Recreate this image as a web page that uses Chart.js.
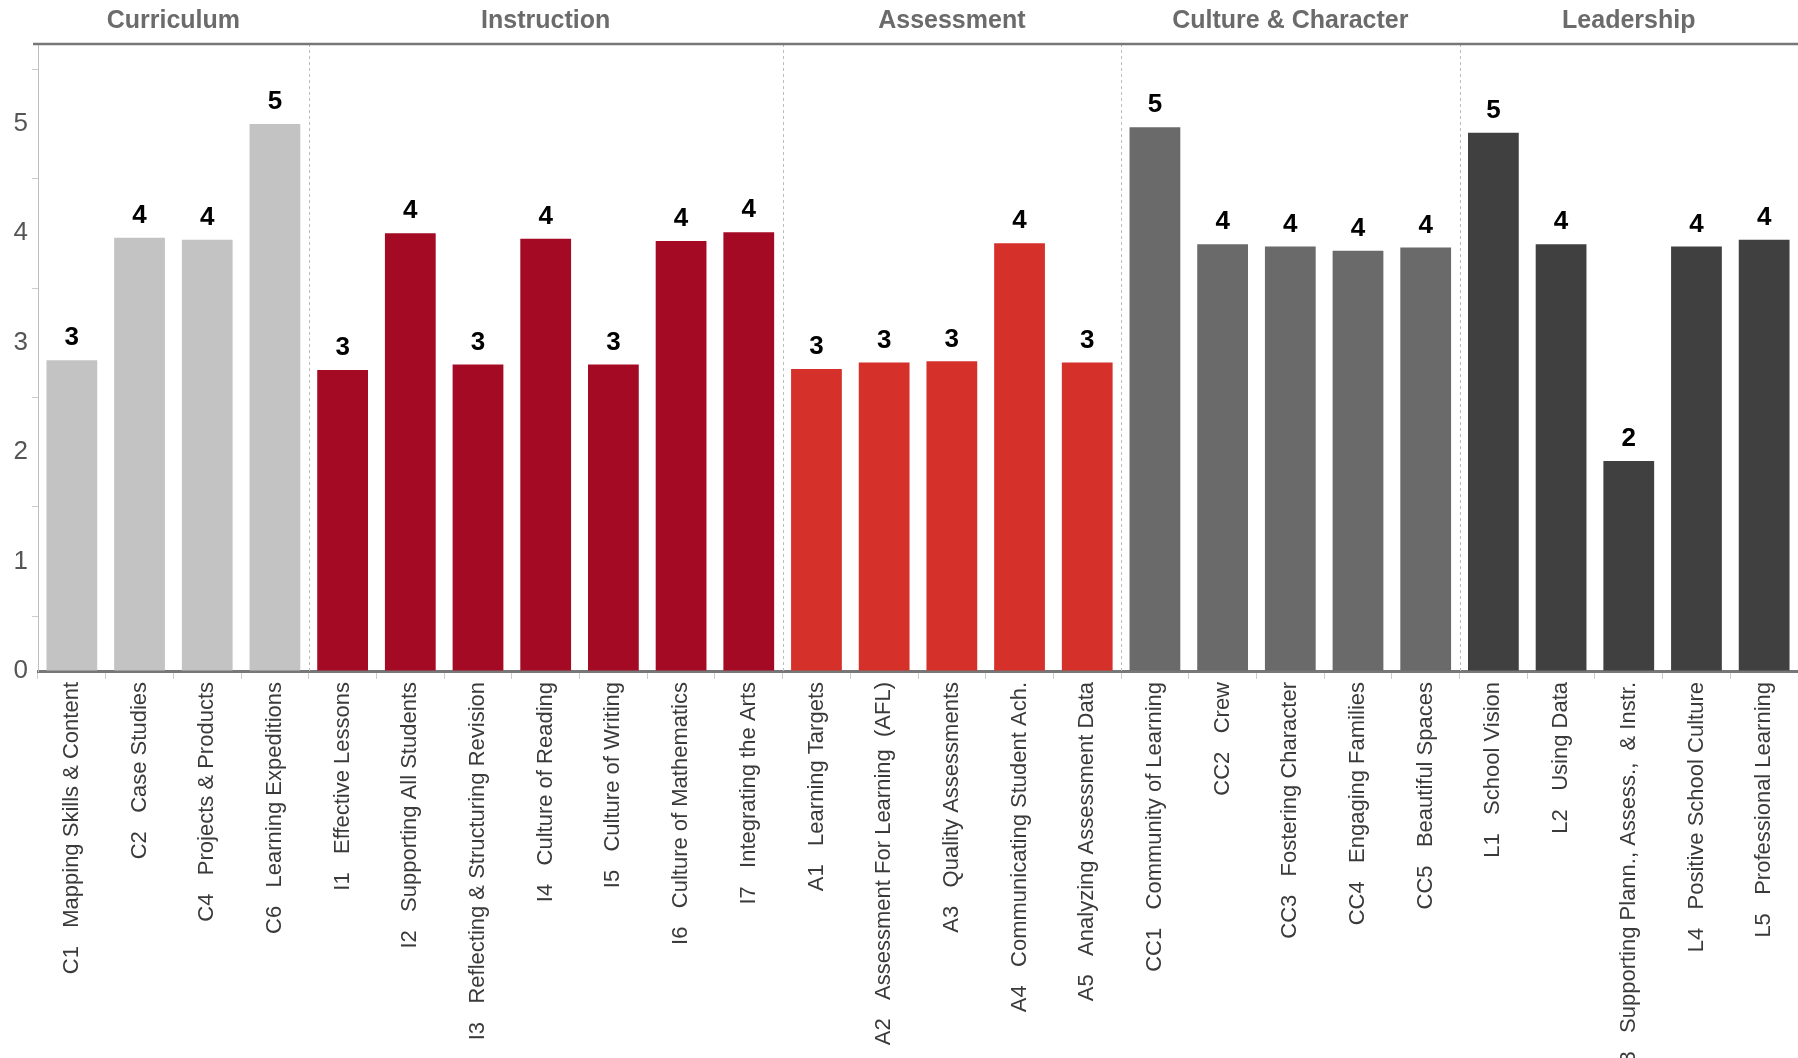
<!DOCTYPE html>
<html>
<head>
<meta charset="utf-8">
<title>School Review Scores</title>
<script src="https://cdn.jsdelivr.net/npm/chart.js@4.4.1/dist/chart.umd.min.js"></script>
<style>
    html, body { margin: 0; padding: 0; background: #ffffff; }
    #wrap { width: 1798px; height: 1058px; overflow: hidden; }
</style>
</head>
<body>
<div id="wrap"><canvas id="mainChart" width="1798" height="1058"></canvas></div>
<script>
// Data
const groups = ['Curriculum', 'Instruction', 'Assessment', 'Culture & Character', 'Leadership'];
const groupSizes = [4, 7, 5, 5, 5];
const groupColors = ['#c3c3c3', '#a50a24', '#d6302a', '#6a6a6a', '#404040'];

const categories = [
    'C1   Mapping Skills & Content',
    'C2   Case Studies',
    'C4   Projects & Products',
    'C6   Learning Expeditions',
    'I1   Effective Lessons',
    'I2   Supporting All Students',
    'I3   Reflecting & Structuring Revision',
    'I4   Culture of Reading',
    'I5   Culture of Writing',
    'I6   Culture of Mathematics',
    'I7   Integrating the Arts',
    'A1   Learning Targets',
    'A2   Assessment For Learning  (AFL)',
    'A3   Quality Assessments',
    'A4   Communicating Student Ach.',
    'A5   Analyzing Assessment Data',
    'CC1   Community of Learning',
    'CC2   Crew',
    'CC3   Fostering Character',
    'CC4   Engaging Families',
    'CC5   Beautiful Spaces',
    'L1   School Vision',
    'L2   Using Data',
    'L3   Supporting Plann., Assess.,  & Instr.',
    'L4   Positive School Culture',
    'L5   Professional Learning'
];

const scores = [
    2.84, 3.96, 3.94, 5.00,
    2.75, 4.00, 2.80, 3.95, 2.80, 3.93, 4.01,
    2.76, 2.82, 2.83, 3.91, 2.82,
    4.97, 3.90, 3.88, 3.84, 3.87,
    4.92, 3.90, 1.92, 3.88, 3.94
];

const yMax = 5.73;
const FONT = '"Liberation Sans", Arial, sans-serif';

// one colour per bar, taken from its group
const barColors = [];
groupSizes.forEach((n, g) => {
    for (let i = 0; i < n; i++) barColors.push(groupColors[g]);
});

// group titles, separators, top rule and value labels
const decorations = {
    id: 'decorations',
    afterDatasetsDraw(chart) {
        const { ctx, chartArea, scales } = chart;
        const x = scales.x;
        const meta = chart.getDatasetMeta(0);

        ctx.save();

        // first/last category index of every group
        let start = 0;
        const bounds = groupSizes.map((n) => {
            const b = [start, start + n - 1];
            start += n;
            return b;
        });

        // dashed separators between groups
        ctx.strokeStyle = '#bdbdbd';
        ctx.lineWidth = 1;
        ctx.setLineDash([3, 3]);
        bounds.slice(0, -1).forEach(([, last]) => {
            const px = Math.round((x.getPixelForValue(last) + x.getPixelForValue(last + 1)) / 2) + 0.5;
            ctx.beginPath();
            ctx.moveTo(px, chartArea.top);
            ctx.lineTo(px, chartArea.bottom);
            ctx.stroke();
        });
        ctx.setLineDash([]);

        // solid rule along the top
        ctx.strokeStyle = '#777777';
        ctx.lineWidth = 2.5;
        ctx.beginPath();
        ctx.moveTo(chartArea.left - 5, chartArea.top);
        ctx.lineTo(chartArea.right, chartArea.top);
        ctx.stroke();

        // group titles centred over their bars
        const half = (x.getPixelForValue(1) - x.getPixelForValue(0)) / 2;
        ctx.fillStyle = '#6b6b6b';
        ctx.font = 'bold 25px ' + FONT;
        ctx.textAlign = 'center';
        ctx.textBaseline = 'middle';
        bounds.forEach(([first, last], g) => {
            const left = x.getPixelForValue(first) - half;
            const right = x.getPixelForValue(last) + half;
            ctx.fillText(groups[g], (left + right) / 2, 21);
        });

        // rounded score above each bar
        ctx.fillStyle = '#000000';
        ctx.font = 'bold 26px ' + FONT;
        ctx.textBaseline = 'bottom';
        meta.data.forEach((bar, i) => {
            ctx.fillText(String(Math.round(scores[i])), bar.x, bar.y - 9);
        });

        ctx.restore();
    }
};

const chart = new Chart(document.getElementById('mainChart'), {
    type: 'bar',
    data: {
        labels: categories,
        datasets: [{
            data: scores,
            backgroundColor: barColors,
            borderWidth: 0,
            barPercentage: 0.75,
            categoryPercentage: 1.0
        }]
    },
    options: {
        responsive: false,
        devicePixelRatio: 1,
        animation: false,
        layout: { padding: { top: 44, right: 0, left: 0, bottom: 0 } },
        plugins: {
            legend: { display: false },
            tooltip: { enabled: false }
        },
        scales: {
            x: {
                offset: true,
                afterFit: (scale) => { scale.height = 387; },
                border: { display: true, color: '#777777', width: 3 },
                grid: {
                    offset: true,
                    drawOnChartArea: false,
                    drawTicks: true,
                    tickLength: 8,
                    tickColor: '#cccccc'
                },
                ticks: {
                    autoSkip: false,
                    minRotation: 90,
                    maxRotation: 90,
                    padding: 3,
                    color: '#3a3a3a',
                    font: { family: FONT, size: 22 }
                }
            },
            y: {
                min: 0,
                max: yMax,
                afterFit: (scale) => { scale.width = 38; },
                border: { display: true, color: '#bdbdbd', width: 1, dash: [3, 3] },
                grid: {
                    drawOnChartArea: false,
                    drawTicks: true,
                    tickLength: 6,
                    tickColor: (c) => (c.tick && !Number.isInteger(c.tick.value)) ? '#cccccc' : 'rgba(0,0,0,0)'
                },
                ticks: {
                    stepSize: 0.5,
                    includeBounds: false,
                    padding: 4,
                    color: '#555555',
                    font: { family: FONT, size: 26 },
                    callback: (v) => Number.isInteger(v) ? String(v) : ''
                }
            }
        }
    },
    plugins: [decorations]
});
</script>
</body>
</html>
